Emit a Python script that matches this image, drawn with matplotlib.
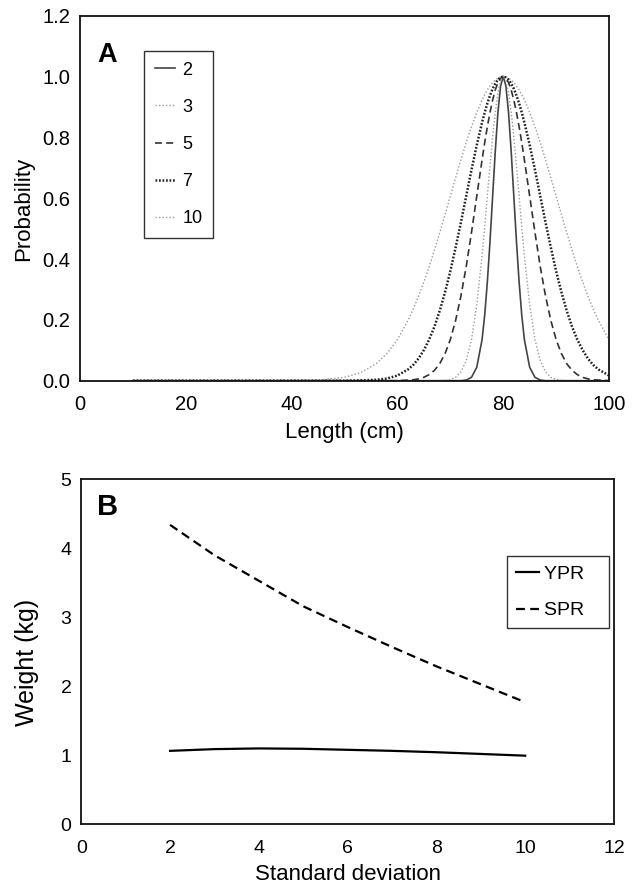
import matplotlib
matplotlib.use("Agg")
import matplotlib.pyplot as plt

plt.rcParams['font.family'] = ['Liberation Sans', 'DejaVu Sans']

# ---------------- Panel A data ----------------
length_cm = [10, 30, 40, 45, 50, 53, 56, 58, 60, 62, 63, 64, 65, 66, 67, 68, 69, 70,
             71, 72, 73, 74, 75, 76, 76.5, 77, 77.5, 78, 78.5, 79, 79.5, 80,
             80.5, 81, 81.5, 82, 82.5, 83, 83.5, 84, 85, 86, 87, 88, 89, 90, 91,
             92, 93, 94, 95, 96, 97, 98, 100]

prob_sd2 = [0, 0, 0, 0, 0, 0, 0, 0, 0, 0, 0, 0, 0, 0, 0, 0, 0, 0, 0, 0,
            0.002, 0.011, 0.044, 0.135, 0.216, 0.325, 0.458, 0.607, 0.755, 0.882, 0.969, 1.0,
            0.969, 0.882, 0.755, 0.607, 0.458, 0.325, 0.216, 0.135, 0.044, 0.011, 0.002,
            0, 0, 0, 0, 0, 0, 0, 0, 0, 0, 0, 0]
prob_sd3 = [0, 0, 0, 0, 0, 0, 0, 0, 0, 0, 0, 0, 0, 0, 0, 0,
            0.001, 0.004, 0.011, 0.029, 0.066, 0.135, 0.249, 0.411, 0.506, 0.607, 0.707,
            0.801, 0.882, 0.946, 0.986, 1.0,
            0.986, 0.946, 0.882, 0.801, 0.707, 0.607, 0.506, 0.411, 0.249, 0.135, 0.066,
            0.029, 0.011, 0.004, 0.001, 0, 0, 0, 0, 0, 0, 0, 0]
prob_sd5 = [0, 0, 0, 0, 0, 0, 0, 0,
            0, 0.002, 0.003, 0.006, 0.011, 0.020, 0.034, 0.056, 0.089, 0.135, 0.198, 0.278,
            0.375, 0.487, 0.607, 0.726, 0.783, 0.835, 0.882, 0.923, 0.956, 0.980, 0.995, 1.0,
            0.995, 0.980, 0.956, 0.923, 0.882, 0.835, 0.783, 0.726, 0.607, 0.487, 0.375,
            0.278, 0.198, 0.135, 0.089, 0.056, 0.034, 0.020, 0.011, 0.006, 0.003, 0.002, 0]
prob_sd7 = [0, 0, 0, 0, 0,
            0.001, 0.003, 0.007, 0.017, 0.037, 0.052, 0.073, 0.101, 0.135, 0.178, 0.230,
            0.291, 0.360, 0.438, 0.520, 0.607, 0.693, 0.775, 0.849, 0.882, 0.912, 0.938,
            0.960, 0.977, 0.990, 0.997, 1.0,
            0.997, 0.990, 0.977, 0.960, 0.938, 0.912, 0.882, 0.849, 0.775, 0.693, 0.607,
            0.520, 0.438, 0.360, 0.291, 0.230, 0.178, 0.135, 0.101, 0.073, 0.052, 0.037, 0.017]
prob_sd10 = [0, 0, 0, 0.002, 0.011, 0.026, 0.056, 0.089, 0.135, 0.198, 0.236, 0.278,
             0.325, 0.375, 0.430, 0.487, 0.546, 0.607, 0.667, 0.726, 0.783, 0.835, 0.882,
             0.923, 0.941, 0.956, 0.969, 0.980, 0.989, 0.995, 0.999, 1.0,
             0.999, 0.995, 0.989, 0.980, 0.969, 0.956, 0.941, 0.923, 0.882, 0.835, 0.783,
             0.726, 0.667, 0.607, 0.546, 0.487, 0.430, 0.375, 0.325, 0.278, 0.236, 0.198, 0.135]

sd_labels = ['2', '3', '5', '7', '10']

# ---------------- Panel B data ----------------
std_dev = [2, 3, 4, 5, 6, 7, 8, 9, 10]
ypr = [1.065, 1.09, 1.10, 1.095, 1.08, 1.065, 1.045, 1.02, 0.995]
spr = [4.34, 3.90, 3.53, 3.16, 2.86, 2.57, 2.29, 2.03, 1.77]
series_b_labels = ['YPR', 'SPR']

fig = plt.figure(figsize=(6.36, 8.88), dpi=100)

# ---------------- Panel A ----------------
axA = fig.add_axes([0.1258, 0.5713, 0.8318, 0.4110])
styles = [
    dict(color='#444444', lw=1.2, ls='-'),
    dict(color='#9a9a9a', lw=1.0, ls=(0, (1, 1.5))),
    dict(color='#333333', lw=1.2, ls=(0, (4.2, 2.5))),
    dict(color='#222222', lw=1.8, ls=(0, (0.7, 0.7))),
    dict(color='#9a9a9a', lw=1.0, ls=(0, (1, 1.5))),
]
series = [prob_sd2, prob_sd3, prob_sd5, prob_sd7, prob_sd10]
for ys, lab, st in zip(series, sd_labels, styles):
    axA.plot(length_cm, ys, label=lab, **st)

axA.set_xlim(0, 100)
axA.set_ylim(0, 1.2)
axA.set_xticks([0, 20, 40, 60, 80, 100])
axA.set_yticks([0.0, 0.2, 0.4, 0.6, 0.8, 1.0, 1.2])
axA.set_yticklabels(['0.0', '0.2', '0.4', '0.6', '0.8', '1.0', '1.2'])
axA.tick_params(axis='both', length=0, labelsize=14.5)
axA.tick_params(axis='x', pad=10)
axA.tick_params(axis='y', pad=7)
for sp in axA.spines.values():
    sp.set_linewidth(1.3)
    sp.set_color('#111111')
axA.set_xlabel('Length (cm)', fontsize=16, labelpad=6)
axA.set_ylabel('Probability', fontsize=16)
axA.yaxis.set_label_coords(-0.087, 0.47)
axA.text(0.032, 0.893, 'A', transform=axA.transAxes, fontsize=19.5,
         fontweight='bold', va='center', ha='left')
legA = axA.legend(loc='upper left', bbox_to_anchor=(0.1204, 0.904), borderaxespad=0,
                  fontsize=13, handlelength=1.15, handletextpad=0.4,
                  labelspacing=1.12, borderpad=0.6, fancybox=False, framealpha=1)
legA.get_frame().set_edgecolor('#333333')
legA.get_frame().set_linewidth(1.0)

# ---------------- Panel B ----------------
axB = fig.add_axes([0.1278, 0.0717, 0.8376, 0.3885])
axB.plot(std_dev, ypr, color='black', lw=1.6, ls='-', label=series_b_labels[0] + '   ')
axB.plot(std_dev, spr, color='black', lw=1.6, ls=(0, (4, 2.4)), label=series_b_labels[1] + '   ')
axB.set_xlim(0, 12)
axB.set_ylim(0, 5)
axB.set_xticks([0, 2, 4, 6, 8, 10, 12])
axB.set_yticks([0, 1, 2, 3, 4, 5])
axB.tick_params(axis='both', length=0, labelsize=14)
axB.tick_params(axis='x', pad=11)
axB.tick_params(axis='y', pad=7)
for sp in axB.spines.values():
    sp.set_linewidth(1.3)
    sp.set_color('#111111')
axB.set_xlabel('Standard deviation', fontsize=16, labelpad=5)
axB.set_ylabel('Weight (kg)', fontsize=18)
axB.yaxis.set_label_coords(-0.079, 0.47)
axB.text(0.03, 0.92, 'B', transform=axB.transAxes, fontsize=21,
         fontweight='bold', va='center', ha='left')
legB = axB.legend(loc='upper left', bbox_to_anchor=(0.7997, 0.7777), borderaxespad=0,
                  fontsize=14, handlelength=1.15, handletextpad=0.28,
                  labelspacing=0.99, borderpad=0.46, fancybox=False, framealpha=1)
legB.get_frame().set_edgecolor('#333333')
legB.get_frame().set_linewidth(1.0)

fig.savefig('out.png', dpi=100)
